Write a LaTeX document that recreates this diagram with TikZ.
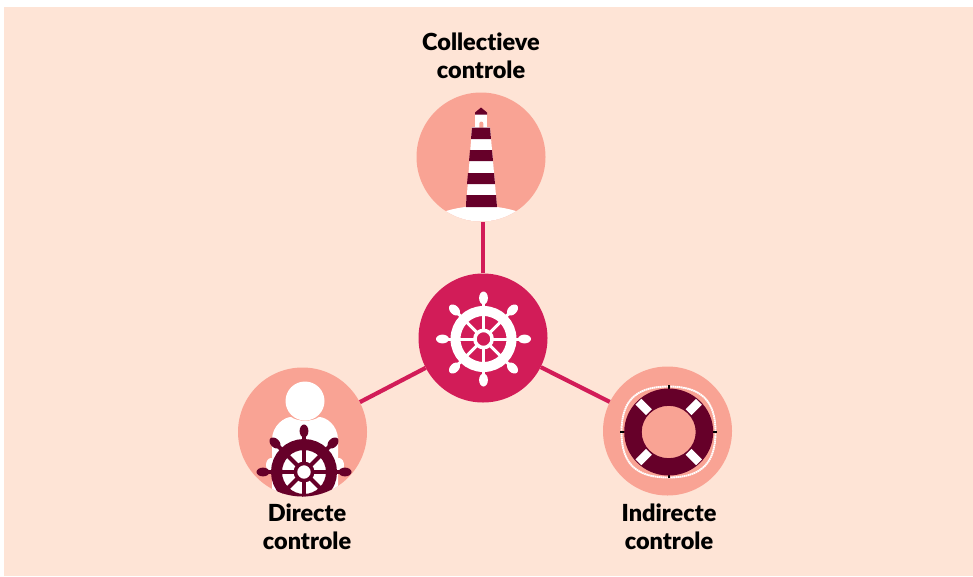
\documentclass[tikz,border=0pt]{standalone}
\usepackage{fontspec}
\setmainfont[BoldFont={Lato Black},Ligatures=CommonOff]{Lato}
\definecolor{bgpeach}{HTML}{FEE4D6}
\definecolor{salmon}{HTML}{F9A394}
\definecolor{crimson}{HTML}{D21C58}
\definecolor{wine}{HTML}{660029}
\tikzset{
  disc/.style={circle,fill=#1,draw=none,minimum size=129pt,inner sep=0pt},
  link/.style={draw=crimson,line width=4.2pt},
  caption/.style={font=\bfseries\fontsize{23.5}{28}\selectfont,align=center,text=black,inner sep=0pt},
  pics/helm/.style n args={3}{code={
    \foreach \a in {0,45,...,315}{
      \begin{scope}[rotate=\a]
        \fill[#1] (8,-#2/2) rectangle (26,#2/2);
        \fill[#1] (30,-#2/2) rectangle (38,#2/2);
        \fill[#1] (41,0) ellipse (6.5 and 4.4);
      \end{scope}
    }
    \draw[#1,line width=#3pt] (0,0) circle (33-#3/2);
    \draw[#1,line width=3.6pt] (0,0) circle (8.6);
  }}
}
\begin{document}
\begin{tikzpicture}[x=1pt,y=-1pt]
\useasboundingbox (0,0) rectangle (973,576);
\fill[white] (0,0) rectangle (973,576);
\fill[bgpeach] (4,7) rectangle (973,576);
\coordinate (pc) at (483,338);
\coordinate (pt) at (481,157);
\coordinate (pl) at (302.5,432);
\coordinate (pr) at (667.5,431);
\node[disc=crimson] (hub) at (pc) {};
\node[disc=salmon] (top) at (pt) {};
\node[disc=salmon] (left) at (pl) {};
\node[disc=salmon] (right) at (pr) {};
\path[link] (hub.north -| 482.6,0) -- (top.south -| 482.6,0);
\path[link] (hub) -- (left);
\path[link] (hub) -- (right);
\pic at (483.5,339) {helm={white}{3}{10}};
% lighthouse
\begin{scope}
  \clip (pt) circle (64.5);
  \fill[white] (481,250) ellipse (75 and 44);
\end{scope}
\fill[white] (475,114) rectangle (487,128);
\fill[wine] (475,114.5) -- (475,112.5) -- (481,107.5) -- (487,112.5) -- (487,114.5) -- cycle;
\fill[white] (472,127) -- (490,127) -- (497,207) -- (466,207) -- cycle;
\fill[salmon] (479.3,127.5) -- (479.3,123.5) .. controls (479.3,121) and (483.3,121) .. (483.3,123.5) -- (483.3,127.5) -- cycle;
\fill[wine] (472,127.5) -- (490,127.5) -- (491,139) -- (471,139) -- cycle;
\fill[wine] (470,150) -- (492,150) -- (493,161) -- (469,161) -- cycle;
\fill[wine] (468,173) -- (494,173) -- (495,184) -- (467,184) -- cycle;
\fill[wine] (466.5,195) -- (496,195) -- (497,207) -- (466,207) -- cycle;
% person
\begin{scope}
  \clip (pl) circle (64.5);
  \fill[white] (272,497) -- (272,440) .. controls (272,425) and (285,417) .. (291,417) .. controls (298,422) and (312,422) .. (319,417) .. controls (326,417) and (338,425) .. (338,440) -- (338,497) -- cycle;
  \fill[white] (305,401) circle (19.5);
  \fill[white] (271,465) ellipse (5 and 7);
  \fill[white] (339,465) ellipse (5 and 7);
  \pic at (304,472) {helm={wine}{4}{11}};
\end{scope}
% lifebuoy
\draw[white,line width=1.9pt,dash pattern=on 1.6pt off 0.5pt] (668.5,386.5) .. controls (700.5,386.5) and (715.5,400) .. (715.5,432) .. controls (715.5,464) and (700.5,477.5) .. (668.5,477.5) .. controls (636.5,477.5) and (621.5,464) .. (621.5,432) .. controls (621.5,400) and (636.5,386.5) .. (668.5,386.5) -- cycle;
\fill[black] (667.7,385) rectangle (669.7,392);
\fill[black] (667.7,472) rectangle (669.7,478);
\fill[black] (620,431) rectangle (626,433);
\fill[black] (711,431) rectangle (717,433);
\fill[wine,even odd rule] (668.7,432) ellipse (44.5 and 43.5) (668.7,432) ellipse (27 and 26.2);
\foreach \a in {45,135,225,315}{
  \fill[white,rotate around={\a:(668.7,432)}] (696.7,427.8) rectangle (711.5,436.2);
}
\node[caption] (c1) at (481,56) {Collectieve\\controle};
\node[caption] (c2) at (307,527) {Directe\\controle};
\node[caption] (c3) at (669,527) {Indirecte\\controle};
\end{tikzpicture}
\end{document}
